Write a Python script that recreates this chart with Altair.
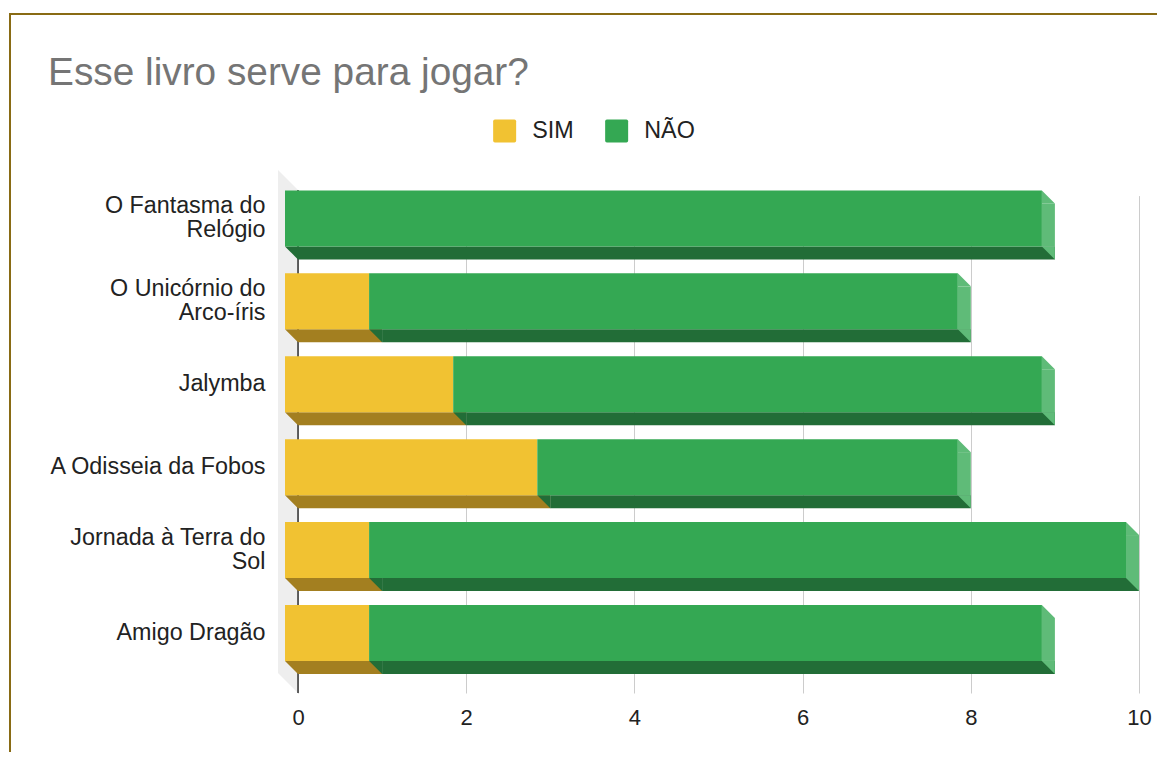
import altair as alt
import pandas as pd

# ---- data ----
books = [
    "O Fantasma do\nRelógio",
    "O Unicórnio do\nArco-íris",
    "Jalymba",
    "A Odisseia da Fobos",
    "Jornada à Terra do\nSol",
    "Amigo Dragão",
]
series_names = ["SIM", "NÃO"]
sim_values = [0, 1, 2, 3, 1, 1]
nao_values = [9, 7, 7, 5, 9, 8]
x_ticks = [0, 2, 4, 6, 8, 10]
title_text = "Esse livro serve para jogar?"

# ---- styles ----
FONT = "Liberation Sans"
FRONT = ["#f1c232", "#34a853"]
DARK_SIM, DARK_NAO = "#a37f20", "#226d37"
SIDE = "#5fbb78"
WALL = "#eeeeee"
BORDER = "#896b14"
D = 13          # 3D depth in px
BAR_H = 56      # bar thickness in px
TRI = 169       # symbol size of a D x D triangle
LBL = 23.3

TRI_LOWER = "M-1,-1L1,-1L1,1Z"
TRI_UPPER = "M-1,-1L1,1L-1,1Z"
ROUND_SQ = ("M-0.85,-1H0.85Q1,-1 1,-0.85V0.85Q1,1 0.85,1H-0.85Q-1,1 -1,0.85"
            "V-0.85Q-1,-1 -0.85,-1Z")

rows = []
for b, s, n in zip(books, sim_values, nao_values):
    start = 0
    segs = [(series_names[0], s), (series_names[1], n)]
    nz = [k for k, (_, v) in enumerate(segs) if v > 0]
    for k, (name, v) in enumerate(segs):
        if v > 0:
            rows.append({"book": b, "series": name, "value": v,
                         "x0": start, "x1": start + v, "last": k == nz[-1]})
        start += v
df = pd.DataFrame(rows)

xs = alt.Scale(domain=[0, 10], nice=False, zero=True)
ys = alt.Scale(domain=books, range=[0, 497.4], paddingInner=0, paddingOuter=0)

x_axis = alt.Axis(values=x_ticks, grid=True, gridColor="#cccccc", gridWidth=1,
                  domain=False, ticks=False, labelFontSize=22, labelColor="#222222",
                  labelFont=FONT, labelPadding=14, title=None, labelFlush=False)
y_axis = alt.Axis(domain=False, ticks=False, grid=False, labelFontSize=LBL,
                  labelColor="#222222", labelFont=FONT, labelPadding=33,
                  labelOffset={"condition": {"test": "indexof(datum.label, '\\n') >= 0",
                                             "value": -D - 12},
                               "value": -D},
                  labelExpr="split(datum.label, '\\n')",
                  labelLineHeight=24, labelLimit=0, title=None)

X0 = alt.X("x0:Q", scale=xs, axis=x_axis, title=None)
X1 = alt.X("x1:Q", scale=xs, axis=x_axis, title=None)
X2 = alt.X2("x1:Q")
Y = alt.Y("book:N", scale=ys, sort=books, axis=y_axis, title=None)

dark_color = alt.condition("datum.series === 'SIM'", alt.value(DARK_SIM), alt.value(DARK_NAO))

base = alt.Chart(df)

# decorative wall + frame + title
deco = alt.Chart(pd.DataFrame({"k": [0]}))
wall = deco.mark_rect(color=WALL).encode(x=alt.value(-20), x2=alt.value(0), y=alt.value(0), y2=alt.value(483))
wall_top = deco.mark_point(shape=TRI_UPPER, size=400, filled=True, opacity=1, strokeWidth=0,
                           color=WALL).encode(x=alt.value(-10), y=alt.value(-10))
wall_bot = deco.mark_point(shape=TRI_LOWER, size=400, filled=True, opacity=1, strokeWidth=0,
                           color=WALL).encode(x=alt.value(-10), y=alt.value(493))
border_top = deco.mark_rule(color=BORDER, strokeWidth=2).encode(
    x=alt.value(-288), x2=alt.value(880), y=alt.value(-176))
border_left = deco.mark_rule(color=BORDER, strokeWidth=2).encode(
    x=alt.value(-288), y=alt.value(-177), y2=alt.value(600))
title = deco.mark_text(align="left", baseline="alphabetic", fontSize=38.8, font=FONT,
                       color="#757575").encode(x=alt.value(-250), y=alt.value(-105),
                                               text=alt.value(title_text))

zero_rule = alt.Chart(pd.DataFrame({"v": [0]})).mark_rule(color="#333333", strokeWidth=1.5).encode(
    x=alt.X("v:Q", scale=xs, axis=x_axis, title=None))

strip = base.mark_bar(height=D, yOffset=BAR_H / 2 - D / 2).encode(
    x=X0, x2=X2, y=Y, color=dark_color)
strip_tri = base.mark_point(shape=TRI_LOWER, size=TRI, filled=True, opacity=1, strokeWidth=0,
                            xOffset=-D / 2, yOffset=BAR_H / 2 - D / 2).encode(
    x=X0, y=Y, color=dark_color)

last = base.transform_filter("datum.last")
side = last.mark_bar(height=BAR_H - D, yOffset=-D / 2, xOffset=-D, x2Offset=0, color=SIDE).encode(
    x=X1, x2=X2, y=Y)
side_top = last.mark_point(shape=TRI_UPPER, size=TRI, filled=True, opacity=1, strokeWidth=0,
                           color=SIDE, xOffset=-D / 2, yOffset=-BAR_H / 2 - D / 2).encode(x=X1, y=Y)
side_bot = last.mark_point(shape=TRI_LOWER, size=TRI, filled=True, opacity=1, strokeWidth=0,
                           color=SIDE, xOffset=-D / 2, yOffset=BAR_H / 2 - D / 2).encode(x=X1, y=Y)

front = base.mark_bar(height=BAR_H, xOffset=-D, x2Offset=-D, yOffset=-D).encode(
    x=X0, x2=X2, y=Y,
    color=alt.Color("series:N", scale=alt.Scale(domain=series_names, range=FRONT),
                    legend=alt.Legend(title=None, orient="none", legendX=195, legendY=-71,
                                      direction="horizontal", symbolType=ROUND_SQ,
                                      symbolSize=529, symbolStrokeWidth=0, symbolOpacity=1,
                                      labelFontSize=LBL, labelFont=FONT, labelColor="#222222",
                                      labelOffset=16, columnPadding=31, padding=0)),
)

chart = alt.layer(
    wall, wall_top, wall_bot, zero_rule, strip, strip_tri, side, side_top, side_bot, front,
    border_top, border_left, title,
).properties(
    width=841, height=503,
    background="white",
    autosize=alt.AutoSizeParams(type="none"),
    padding={"left": 290, "top": 182, "right": 18, "bottom": 59},
).configure_view(strokeWidth=0, stroke="transparent")

chart.save("out.html", embed_options={"renderer": "svg", "actions": False})
